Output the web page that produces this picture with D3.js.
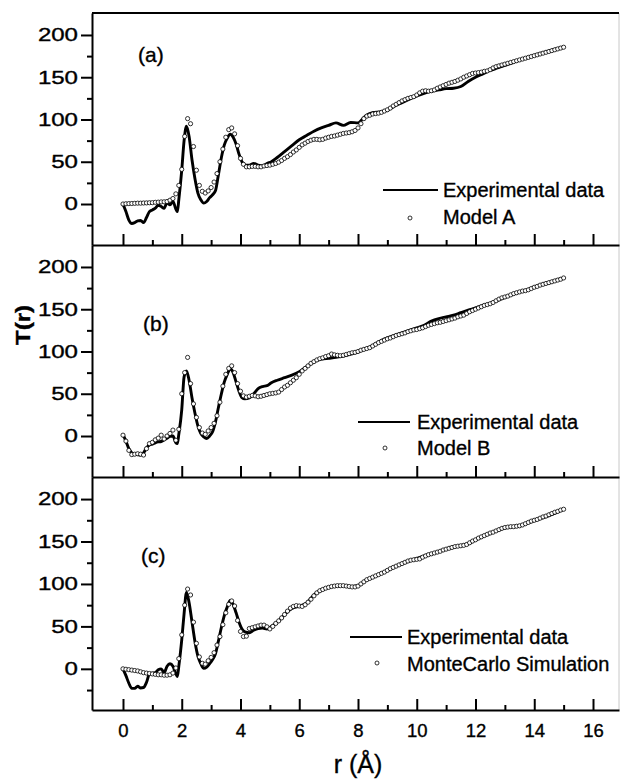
<!DOCTYPE html>
<html><head><meta charset="utf-8">
<script src="https://cdn.jsdelivr.net/npm/d3@7"></script>
<style>
body{margin:0;background:#fff}
svg{display:block}
text{font-family:"Liberation Sans",Arial,Helvetica,sans-serif;fill:#000;stroke:#000;stroke-width:0.35px}
</style>
</head><body>
<svg id="chart" width="621" height="783"></svg>
<script>
// ---------- DATA ----------
const panelLabels = ["(a)", "(b)", "(c)"];
const legendExp = "Experimental data";
const legendSim = ["Model A", "Model B", "MonteCarlo Simulation"];
const xTickValues = [0, 2, 4, 6, 8, 10, 12, 14, 16];
const xMinorTicks = [1, 3, 5, 7, 9, 11, 13, 15];
const yTickValues = [0, 50, 100, 150, 200];
const yMinorTicks = [-25, 25, 75, 125, 175];
const xTitle = "r (Å)";
const yTitle = "T(r)";

// r positions of experimental curve samples
const lineR = [0,0.1,0.2,0.3,0.4,0.5,0.6,0.7,0.8,0.9,1.0,1.1,1.2,1.3,1.4,1.5,1.6,1.7,1.8,1.85,1.9,2.0,2.08,2.16,2.25,2.35,2.45,2.55,2.65,2.75,2.85,2.95,3.05,3.15,3.25,3.35,3.45,3.55,3.65,3.75,3.85,3.95,4.05,4.15,4.3,4.45,4.6,4.75,4.9,5.05,5.25,5.5,5.75,6.0,6.25,6.5,6.75,7.0,7.25,7.5,7.75,8.0,8.25,8.5,8.75,9.0,9.25,9.5,9.75,10.0,10.25,10.5,10.75,11.0,11.25,11.5,11.75,12.0,12.25,12.5,12.75,13.0,13.25,13.5,13.75,14.0,14.25,14.5,14.75,15.0];

const expA = [0,-9,-19,-23,-22,-20,-19.5,-22,-16,-9,-7,-5,-1.5,-3,-5,1.5,-1,3,-6,-9,5,40,75,92,80,52,30,13,5,1,3,7.5,11,16,35,55,70,78,82.5,79,71,59,50,46,46,48,46,45,48,50,55,62,69,76,81,86,90,93,96,93,96.5,96,104,108,109,111,116,120,124,128,131,133.5,135,136.5,137,139,145,150,154,158,161,164,167,170.5,173,176,178.5,181,183.5,185.5];

const expB = [2,-6,-15,-20,-21.5,-22,-22.5,-20,-14,-10.5,-9.5,-8,-7,-6.5,-4.5,-2.5,-0.5,0,-8,-9,2,31,70,77,66,45,27,12,3,-1,-3,0,5,17,34,50,64,73,79.5,75,64,53,45.5,44,45,50,56,58.5,59.5,63,66,69,72,76,82,88,91,92,93,94.5,97,99.5,103,107,112,116,119,122,125,128,131,136,139,141,143,146,149,151.5,154.5,157,160.5,164,167.5,170.5,173,176,179,181.5,184.5,187];

const expC = [0,-8,-17,-23,-23,-20.5,-22.5,-22,-16,-6,-5,-4.5,-1,0,-4.5,3,6,3,-6,-9,3,34,65,90,78,55,32,15,6,0.5,2,6,11,18,33,49,63,73,80.5,76,66,55,47,43.5,42.5,45.5,47.5,48,47,50,55,64,71,74,77.5,87,93,96,97.5,98,97,98,104,108,112,116,120,124,127,130,133,135.5,138,141,143.5,145,147.5,152,156,159.5,163,166,167.5,168.5,171.5,174.5,177.5,180.5,184,188];

// simulated points every 0.1 Å from 0 to 15 Å
const simR = d3.range(151).map(i => Math.round(i) / 10);

const modelA = [0,0.3,0.5,0.6,0.8,1,1,1.2,1.3,1.5,1.6,2,2.2,2.5,2.6,3,4.5,6.5,12,22,
41,80,101,95,68,40,22,15,13,15.5,19.5,26,36,50,65,79,88,90,83,69,
54,47,44,44,44.5,44.5,44,44,45,45.5,46,47,48,49.5,51.5,54,56,58.5,61.5,64,
67,70,72,74,75.5,76.5,76.5,76,76.5,78,79,80,80.5,81.5,82.5,83.5,84,84.5,85.5,87,
90,95,101,104,105,106.5,107,107.5,108.5,110,111.5,113.5,116,118,120,122,123.5,125,126,127,
129,131.5,133.5,134,133.5,134,135,137,138.5,140,141.5,143,144,145,146.5,148,150,151.5,153,154.5,
155,155.5,156,157,157.5,159,161,162.5,163.5,164.5,165.5,166.5,167.5,168.5,169.5,170.5,171.5,172.5,173.5,174.5,
175.5,176.5,177.5,178.5,179.5,180.5,181.5,182.5,183.5,184.5,185.5];

const modelB = [1,-6,-17,-22,-21.5,-21,-21.5,-22.5,-15,-9,-7.5,-4.5,-2.5,1,-3.5,0,3,7,-5,8,
50,75,93,62,38,22,10,3.5,2,6,10,15,24,40,59,73,80,83,75,62,
53,47.5,46,47,48,47.5,46.5,47,48,49,50,50.5,51,52,55,58,60,63,66,69,
73,77,80,83,86,88,90,91.5,92.5,94,95,97,96,95.5,95,95.5,96.5,97.5,98.5,99,
100,101.5,102.5,103.5,104.5,106.5,108.5,110.5,112,113.5,115,116,117.5,119,120,121,122,123.5,124.5,125.5,
126,127,128,129.5,131,132,133,134,134.5,135.5,136.5,137.5,138.5,139.5,141,142,143,145,147,148.5,
150,151.5,153,154.5,155.5,156.5,158,160,162,163.5,164.5,165.5,167,168.5,169.5,170.5,171.5,172,173,174.5,
176,177,178.5,179.5,180.5,181.5,182.5,183.5,184.5,185.5,187];

const mcC = [0,-0.5,-1,-1.5,-2,-2.5,-3.5,-4.5,-5,-5.5,-6,-6.5,-7,-7,-7.5,-7.5,-7,-5,1,12,
40,75,94,87,55,30,14,6.5,5.5,9.5,13.5,19,28,38,52,66,76,80,74,57,
44,38,38.5,47.5,48.5,49.5,50.5,51.5,51.5,49.5,47,50,53.5,56.5,60,64,68,71.5,73.5,74.5,
74,73.5,75.5,78.5,82,86,89.5,92,93.5,95,96,97,97.5,98,98,98,97.5,97,96.5,96.5,
97.5,100,102.5,105,106.5,108,109.5,111,112.5,114,116,118,119.5,121,122.5,124,125.5,127,128,128.5,
129,129.5,131.5,133,134.5,135.5,136.5,137.5,138.5,140,141,142,143,144,144.5,145,145.5,146.5,148.5,150.5,
152,154,155.5,157,158.5,160,161,162.5,164,165.5,166.5,167,167.5,167.5,168,168.5,169.5,171,172.5,174,
175,176,177.5,179,180,181.5,183,184.5,185.5,187,188];

const expSeries = [expA, expB, expC];
const simSeries = [modelA, modelB, mcC];

// ---------- LAYOUT ----------
const svg = d3.select("#chart");
const font = '"Liberation Sans",Arial,Helvetica,sans-serif';
const left = 92, right = 619;
const panelBox = [{top: 13, bottom: 245}, {top: 245, bottom: 477}, {top: 477, bottom: 710}];
const x = d3.scaleLinear().domain([-1.055, 16.885]).range([left, right]);

const labelPos = [{x: 138, y: 62}, {x: 143, y: 331}, {x: 141, y: 563}];
const legendPos = [
  {lx1: 383, lx2: 438, ly: 190, tx: 443, ty1: 197, ty2: 224, cx: 410, cy: 218},
  {lx1: 358, lx2: 410, ly: 422, tx: 417, ty1: 429, ty2: 455, cx: 385, cy: 448},
  {lx1: 350, lx2: 402, ly: 637, tx: 407, ty1: 644, ty2: 671, cx: 377, cy: 663}
];

// right frame edge (light grey)
svg.append("line").attr("x1", right).attr("x2", right).attr("y1", 13).attr("y2", 710)
  .attr("stroke", "#c8c8c8").attr("stroke-width", 1);
// top frame edge
svg.append("line").attr("x1", left).attr("x2", right).attr("y1", 13).attr("y2", 13)
  .attr("stroke", "#000").attr("stroke-width", 2);

panelBox.forEach((pb, i) => {
  const y = d3.scaleLinear().domain([-48.5, 226]).range([pb.bottom, pb.top]);
  const g = svg.append("g");

  // bottom axis (ticks point up into the panel)
  const xMajor = g.append("g").attr("transform", `translate(0,${pb.bottom})`)
    .call(d3.axisBottom(x).tickValues(xTickValues).tickSize(-11).tickSizeOuter(0).tickPadding(14)
      .tickFormat(i === 2 ? d3.format("d") : () => ""));
  const xMinor = g.append("g").attr("transform", `translate(0,${pb.bottom})`)
    .call(d3.axisBottom(x).tickValues(xMinorTicks).tickSize(-5).tickSizeOuter(0).tickFormat(() => ""));
  xMinor.select(".domain").remove();
  [xMajor, xMinor].forEach(a => {
    a.selectAll("line").attr("stroke-width", 2);
    a.select(".domain").attr("stroke-width", 2);
    a.selectAll("text").style("font-family", font).style("font-size", "18.5px");
  });

  // left axis (ticks outward)
  const yMajor = g.append("g").attr("transform", `translate(${left},0)`)
    .call(d3.axisLeft(y).tickValues(yTickValues).tickSize(11).tickSizeOuter(0).tickFormat(d3.format("d")));
  const yMinor = g.append("g").attr("transform", `translate(${left},0)`)
    .call(d3.axisLeft(y).tickValues(yMinorTicks).tickSize(5).tickSizeOuter(0).tickFormat(() => ""));
  yMinor.select(".domain").remove();
  [yMajor, yMinor].forEach(a => {
    a.selectAll("line").attr("stroke-width", 2);
    a.select(".domain").attr("stroke-width", 2);
  });
  yMajor.selectAll("text").attr("x", null)
    .attr("transform", "translate(-14,0) scale(1.3,1)")
    .style("font-family", font).style("font-size", "18.5px");

  // experimental line
  const line = d3.line().x((d, k) => x(lineR[k])).y(d => y(d)).curve(d3.curveMonotoneX);
  g.append("path").datum(expSeries[i]).attr("d", line)
    .attr("fill", "none").attr("stroke", "#000").attr("stroke-width", 2.9)
    .attr("stroke-linejoin", "round");

  // simulated points
  g.append("g").selectAll("circle").data(simSeries[i]).join("circle")
    .attr("cx", (d, k) => x(simR[k])).attr("cy", d => y(d)).attr("r", 2.1)
    .attr("fill", "#fff").attr("stroke", "#000").attr("stroke-width", 0.8);

  // panel label
  g.append("text").attr("x", labelPos[i].x).attr("y", labelPos[i].y)
    .style("font-size", "21px").text(panelLabels[i]);

  // legend
  const lp = legendPos[i];
  g.append("line").attr("x1", lp.lx1).attr("x2", lp.lx2).attr("y1", lp.ly).attr("y2", lp.ly)
    .attr("stroke", "#000").attr("stroke-width", 2.2);
  g.append("text").attr("x", lp.tx).attr("y", lp.ty1).style("font-size", "20px").text(legendExp);
  g.append("circle").attr("cx", lp.cx).attr("cy", lp.cy).attr("r", 2)
    .attr("fill", "#fff").attr("stroke", "#000").attr("stroke-width", 0.8);
  g.append("text").attr("x", lp.tx).attr("y", lp.ty2).style("font-size", "20px").text(legendSim[i]);
});

// axis titles
svg.append("text").attr("transform", "translate(30,325) rotate(-90) scale(1.2,1)")
  .attr("text-anchor", "middle").style("font-size", "20px").style("font-weight", "bold").text(yTitle);
svg.append("text").attr("x", 358).attr("y", 773).attr("text-anchor", "middle")
  .style("font-size", "25px").text(xTitle);
</script>
</body></html>
